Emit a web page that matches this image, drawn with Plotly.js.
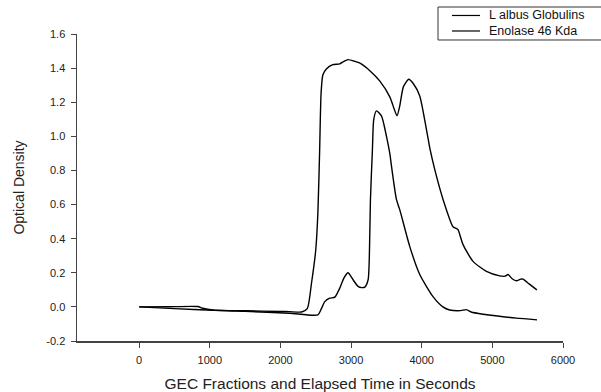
<!DOCTYPE html>
<html>
<head>
<meta charset="utf-8">
<script src="https://cdn.plot.ly/plotly-3.0.1.min.js"></script>
<style>html,body{margin:0;padding:0;background:#fff;}</style>
</head>
<body>
<div id="chart" style="width:601px;height:392px;"></div>
<script>
const globulinsX = [0, 500, 1045, 1500, 2000, 2130, 2300, 2380, 2440, 2500, 2530, 2555, 2575, 2600, 2650, 2740, 2840, 2900, 2955, 3050, 3120, 3265, 3405, 3550, 3610, 3650, 3690, 3740, 3816, 3880, 3972, 4067, 4120, 4184, 4302, 4443, 4490, 4514, 4585, 4726, 4916, 5104, 5180, 5222, 5280, 5340, 5400, 5434, 5520, 5630];
const globulinsY = [0.0, -0.01, -0.02, -0.023, -0.027, -0.028, -0.03, -0.01, 0.14, 0.335, 0.55, 0.92, 1.25, 1.36, 1.395, 1.42, 1.425, 1.44, 1.45, 1.44, 1.43, 1.385, 1.325, 1.23, 1.16, 1.12, 1.18, 1.29, 1.335, 1.31, 1.237, 1.04, 0.92, 0.806, 0.63, 0.47, 0.46, 0.453, 0.365, 0.267, 0.208, 0.182, 0.18, 0.19, 0.165, 0.153, 0.163, 0.163, 0.135, 0.1];

const enolaseX = [0, 400, 830, 900, 1045, 1500, 2130, 2530, 2580, 2628, 2698, 2770, 2840, 2900, 2957, 3028, 3099, 3150, 3194, 3241, 3265, 3274, 3302, 3321, 3359, 3430, 3501, 3548, 3572, 3642, 3689, 3830, 3972, 4160, 4300, 4396, 4550, 4632, 4700, 4868, 5100, 5340, 5632];
const enolaseY = [0.0, 0.001, 0.002, -0.008, -0.018, -0.026, -0.037, -0.047, -0.01, 0.031, 0.051, 0.057, 0.11, 0.17, 0.2, 0.159, 0.12, 0.113, 0.116, 0.159, 0.43, 0.63, 0.92, 1.1, 1.149, 1.12, 1.0, 0.9, 0.825, 0.63, 0.57, 0.355, 0.19, 0.06, 0.0, -0.018, -0.022, -0.016, -0.03, -0.043, -0.055, -0.066, -0.076];

const seriesNames = ["L albus Globulins", "Enolase 46 Kda"];
const xTickVals = [0, 1000, 2000, 3000, 4000, 5000, 6000];
const yTickVals = [-0.2, 0.0, 0.2, 0.4, 0.6, 0.8, 1.0, 1.2, 1.4, 1.6];

const FONT = 'Arial, Liberation Sans, sans-serif';
const lineStyle = {color: '#000', width: 1.4, shape: 'spline', smoothing: 0.6};

const traces = [
  {x: globulinsX, y: globulinsY, mode: 'lines', name: seriesNames[0], line: lineStyle},
  {x: enolaseX, y: enolaseY, mode: 'lines', name: seriesNames[1], line: lineStyle}
];

// Legend box drawn as a compact key (paper coordinates)
const legendRows = [1.0603, 1.0098];
const shapes = [
  {type: 'rect', xref: 'paper', yref: 'paper', x0: 0.7428, x1: 1.09, y0: 0.9805, y1: 1.0879,
   line: {color: '#333', width: 1}, fillcolor: '#fff', layer: 'above'}
];
const annotations = [];
seriesNames.forEach((name, i) => {
  shapes.push({type: 'line', xref: 'paper', yref: 'paper', x0: 0.7716, x1: 0.8292,
    y0: legendRows[i], y1: legendRows[i], line: {color: '#000', width: 1.2}, layer: 'above'});
  annotations.push({xref: 'paper', yref: 'paper', x: 0.8457, y: legendRows[i],
    xanchor: 'left', yanchor: 'middle', showarrow: false, text: name, borderpad: 0,
    font: {family: FONT, size: 12.5, color: '#111'}});
});

const axisFont = {family: FONT, size: 11, color: '#222'};

const layout = {
  width: 601, height: 392,
  margin: {l: 77, r: 38, t: 34, b: 51},
  paper_bgcolor: '#fff', plot_bgcolor: '#fff',
  font: {family: FONT, color: '#222'},
  showlegend: false,
  shapes: shapes,
  annotations: annotations,
  xaxis: {
    range: [-880, 6000], tickvals: xTickVals, ticktext: xTickVals.map(String),
    showline: true, linecolor: '#444', linewidth: 1.5, ticks: 'outside', ticklen: 5, tickcolor: '#444',
    ticklabelstandoff: 3,
    showgrid: false, zeroline: false, tickfont: axisFont,
    title: {text: 'GEC Fractions and Elapsed Time in Seconds', font: {family: FONT, size: 15.5, color: '#222'}, standoff: 13}
  },
  yaxis: {
    range: [-0.2, 1.6], tickvals: yTickVals, ticktext: yTickVals.map(v => v.toFixed(1)),
    showline: true, linecolor: '#444', linewidth: 1.5, ticks: 'outside', ticklen: 5, tickcolor: '#444',
    ticklabelstandoff: 3,
    showgrid: false, zeroline: false, tickfont: axisFont,
    title: {text: 'Optical Density', font: {family: FONT, size: 14, color: '#222'}, standoff: 18}
  }
};

Plotly.newPlot('chart', traces, layout, {displayModeBar: false, staticPlot: true});
</script>
</body>
</html>
